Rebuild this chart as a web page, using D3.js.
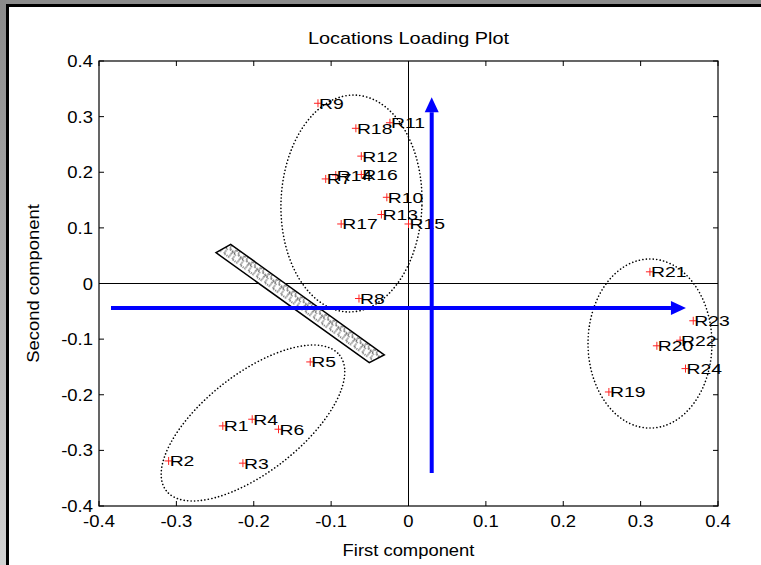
<!DOCTYPE html>
<html>
<head>
<meta charset="utf-8">
<script src="https://cdn.jsdelivr.net/npm/d3@7"></script>
<style>
  html, body { margin: 0; padding: 0; background: #fff; }
  svg { display: block; font-family: "Liberation Sans", Arial, Helvetica, sans-serif; }
</style>
</head>
<body>
<svg id="chart" width="761" height="565"></svg>
<script>
// Loading scores of each location on the first two components
const names = ["R1","R2","R3","R4","R5","R6","R7","R8","R9","R10","R11","R12",
               "R13","R14","R15","R16","R17","R18","R19","R20","R21","R22","R23","R24"];
const firstComp  = [-0.240,-0.310,-0.214,-0.202,-0.127,-0.168,-0.107,-0.064,-0.117,-0.028,-0.024,-0.061,
                    -0.035,-0.094, 0.000,-0.061,-0.087,-0.068, 0.259, 0.321, 0.312, 0.351, 0.368, 0.358];
const secondComp = [-0.256,-0.319,-0.323,-0.244,-0.141,-0.262, 0.188,-0.027, 0.324, 0.155, 0.289, 0.229,
                     0.124, 0.195, 0.107, 0.196, 0.107, 0.279,-0.195,-0.112, 0.021,-0.102,-0.067,-0.153];

const xTicks = [-0.4,-0.3,-0.2,-0.1,0,0.1,0.2,0.3,0.4];
const yTicks = [-0.4,-0.3,-0.2,-0.1,0,0.1,0.2,0.3,0.4];
const xTickLabels = ["-0.4","-0.3","-0.2","-0.1","0","0.1","0.2","0.3","0.4"];
const yTickLabels = ["-0.4","-0.3","-0.2","-0.1","0","0.1","0.2","0.3","0.4"];

// Group outlines: centre, semi-axes (data units) and screen rotation in degrees
const groupCx    = [-0.0737, 0.3121, -0.201];
const groupCy    = [ 0.1438,-0.1079, -0.2508];
const groupRx    = [ 0.0911, 0.0801,  0.1422];
const groupRy    = [ 0.1950, 0.1520,  0.0881];
const groupAngle = [ 2, 0, -38];

// Direction arrows [x1, y1, x2, y2]
const arrowH = [-0.3845, -0.044, 0.3586, -0.044];
const arrowV = [ 0.030, -0.3407, 0.030, 0.3347];

// Hatched separator band corners
const bandX = [-0.2488, -0.2298, -0.0313, -0.0507];
const bandY = [ 0.0554,  0.0705, -0.1285, -0.1424];

const W = 761, H = 565;
const m = { left: 99, right: 718, top: 61, bottom: 506 };
const x = d3.scaleLinear().domain([-0.4, 0.4]).range([m.left, m.right]);
const y = d3.scaleLinear().domain([-0.4, 0.4]).range([m.bottom, m.top]);

const svg = d3.select("#chart");
const defs = svg.append("defs");

// Text with a slightly widened face, anchored at (tx, ty)
function label(sel, tx, ty, size, sx, anchor, str, rot) {
  return sel.append("text")
    .attr("transform", `translate(${tx},${ty})${rot ? ` rotate(${rot})` : ""} scale(${sx},1)`)
    .attr("text-anchor", anchor).attr("font-size", size).attr("fill", "#000").text(str);
}

// Window frame
const grad = defs.append("linearGradient").attr("id", "leftEdge")
  .attr("x1", 0).attr("y1", 0).attr("x2", 0).attr("y2", 1);
grad.append("stop").attr("offset", "0%").attr("stop-color", "#8a8a8a");
grad.append("stop").attr("offset", "100%").attr("stop-color", "#d2d2d2");
svg.append("rect").attr("width", W).attr("height", H).attr("fill", "#fff");
svg.append("rect").attr("x", 0).attr("y", 0).attr("width", W).attr("height", 4).attr("fill", "#8c8c8c");
svg.append("rect").attr("x", 0).attr("y", 0).attr("width", 6).attr("height", H).attr("fill", "url(#leftEdge)");
svg.append("rect").attr("x", 6).attr("y", 4).attr("width", W - 6).attr("height", 3).attr("fill", "#000");
svg.append("rect").attr("x", 6).attr("y", 4).attr("width", 3).attr("height", H - 4).attr("fill", "#000");

// Hatch pattern for the separator band: dotted meander lines aligned with the band
const b0x = x(bandX[0]), b0y = y(bandY[0]);
const bandAng = Math.atan2(y(bandY[3]) - b0y, x(bandX[3]) - b0x) * 180 / Math.PI;
const pat = defs.append("pattern").attr("id", "hatch")
  .attr("patternUnits", "userSpaceOnUse").attr("width", 10).attr("height", 17)
  .attr("patternTransform", `translate(${b0x},${b0y}) rotate(${bandAng})`);
pat.append("rect").attr("width", 10).attr("height", 17).attr("fill", "#fff");
pat.append("path").attr("d", "M0,-4 H3 V-10 H7 V-4 H10")
  .attr("fill", "none").attr("stroke", "#000").attr("stroke-width", 1.1)
  .attr("stroke-dasharray", "1.1,1.1");
pat.append("path").attr("d", "M0,-11 H5 V-14 H9 V-11 H10")
  .attr("fill", "none").attr("stroke", "#000").attr("stroke-width", 1.1)
  .attr("stroke-dasharray", "1.1,1.1");
pat.selectAll("path").attr("transform", "translate(0,17)");

// Plot box
svg.append("rect").attr("x", m.left).attr("y", m.top)
  .attr("width", m.right - m.left).attr("height", m.bottom - m.top)
  .attr("fill", "#fff").attr("stroke", "#000").attr("stroke-width", 1.2);

// Inward ticks on all four sides
const tl = 5;
const tg = svg.append("g").attr("stroke", "#000").attr("stroke-width", 1);
xTicks.forEach(t => {
  tg.append("line").attr("x1", x(t)).attr("x2", x(t)).attr("y1", m.bottom).attr("y2", m.bottom - tl);
  tg.append("line").attr("x1", x(t)).attr("x2", x(t)).attr("y1", m.top).attr("y2", m.top + tl);
});
yTicks.forEach(t => {
  tg.append("line").attr("y1", y(t)).attr("y2", y(t)).attr("x1", m.left).attr("x2", m.left + tl);
  tg.append("line").attr("y1", y(t)).attr("y2", y(t)).attr("x1", m.right).attr("x2", m.right - tl);
});

// Tick labels
const tickG = svg.append("g");
xTicks.forEach((t, i) => label(tickG, x(t), m.bottom + 21, 16.5, 1.12, "middle", xTickLabels[i]));
yTicks.forEach((t, i) => label(tickG, m.left - 6, y(t) + 6, 16.5, 1.12, "end", yTickLabels[i]));

// Titles
label(svg, (m.left + m.right) / 2, 44, 17, 1.17, "middle", "Locations Loading Plot");
label(svg, (m.left + m.right) / 2, 556, 16, 1.15, "middle", "First component");
label(svg, 39, (m.top + m.bottom) / 2, 16, 1.15, "middle", "Second component", -90);

// Zero reference lines
svg.append("line").attr("x1", m.left).attr("x2", m.right).attr("y1", y(0)).attr("y2", y(0))
  .attr("stroke", "#000").attr("stroke-width", 1);
svg.append("line").attr("x1", x(0)).attr("x2", x(0)).attr("y1", m.top).attr("y2", m.bottom)
  .attr("stroke", "#000").attr("stroke-width", 1);

// Dotted group outlines
const kx = x(1) - x(0), ky = y(0) - y(1);
groupCx.forEach((cx, i) => {
  svg.append("ellipse")
    .attr("transform", `translate(${x(cx)},${y(groupCy[i])}) rotate(${groupAngle[i]})`)
    .attr("rx", groupRx[i] * kx).attr("ry", groupRy[i] * ky)
    .attr("fill", "none").attr("stroke", "#000").attr("stroke-width", 1.6)
    .attr("stroke-dasharray", "0.1,3.4").attr("stroke-linecap", "round");
});

// Hatched separator band
svg.append("polygon")
  .attr("points", bandX.map((bx, i) => `${x(bx)},${y(bandY[i])}`).join(" "))
  .attr("fill", "url(#hatch)").attr("stroke", "#000").attr("stroke-width", 1.5);

// Point markers and labels
const pts = names.map((n, i) => ({ n, px: firstComp[i], py: secondComp[i] }));
const pg = svg.append("g");
pg.selectAll("path.mk").data(pts).join("path").attr("class", "mk")
  .attr("d", d => `M${x(d.px) - 4},${y(d.py)} H${x(d.px) + 4} M${x(d.px)},${y(d.py) - 4} V${y(d.py) + 4}`)
  .attr("stroke", "#ff2020").attr("stroke-width", 1).attr("fill", "none");
pts.forEach(d => label(pg, x(d.px) + 1, y(d.py) + 5.5, 15.5, 1.25, "start", d.n));

// Blue direction arrows
function arrow(a) {
  const x1 = x(a[0]), y1 = y(a[1]), x2 = x(a[2]), y2 = y(a[3]);
  const ang = Math.atan2(y2 - y1, x2 - x1), L = 15, hw = 7;
  const bx = x2 - L * Math.cos(ang), by = y2 - L * Math.sin(ang);
  svg.append("line").attr("x1", x1).attr("y1", y1).attr("x2", bx).attr("y2", by)
    .attr("stroke", "#0000ff").attr("stroke-width", 4);
  const nx = -Math.sin(ang) * hw, ny = Math.cos(ang) * hw;
  svg.append("polygon")
    .attr("points", `${x2},${y2} ${bx + nx},${by + ny} ${bx - nx},${by - ny}`)
    .attr("fill", "#0000ff");
}
arrow(arrowH);
arrow(arrowV);
</script>
</body>
</html>
